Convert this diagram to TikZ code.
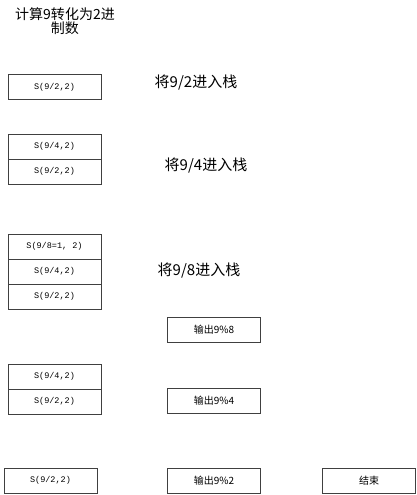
\documentclass[tikz,border=0pt]{standalone}
\usepackage{fontspec}
\setmainfont{Liberation Serif}
\setmonofont{Liberation Mono}
\newfontfamily\cjk{Noto Sans CJK SC}
\usetikzlibrary{positioning}

\begin{document}
\begin{tikzpicture}[x=1pt,y=-1pt,semithick,node distance=0pt]
\tikzstyle{cell}=[draw=black!75,thin,minimum width=93pt,minimum height=25pt,inner sep=0pt,outer sep=0pt,font=\ttfamily\fontsize{8.5}{9}\selectfont]
\tikzstyle{outbox}=[cell,font=\cjk\fontsize{10}{11}\selectfont]
\tikzstyle{note}=[inner sep=0pt,font=\cjk\fontsize{15}{16}\selectfont]
\useasboundingbox (0,0) rectangle (417,495);
% title
\node[inner sep=0pt,align=center,font=\cjk\fontsize{14}{14.5}\selectfont] (title) at (65,21) {计算9转化为2进\\制数};
% push 9/2
\node[cell] (A1) at (54.5,87) {S(9/2,2)};
\node[note] (pushA) at (196,83) {将9/2进入栈};
% push 9/4
\node[cell] (B1) at (54.5,146.5) {S(9/4,2)};
\node[cell][below=of B1] (B2) {S(9/2,2)};
\node[note] (pushB) at (206,166) {将9/4进入栈};
% push 9/8
\node[cell] (C1) at (54.5,246.5) {S(9/8=1, 2)};
\node[cell][below=of C1] (C2) {S(9/4,2)};
\node[cell][below=of C2] (C3) {S(9/2,2)};
\node[note] (pushC) at (199,271) {将9/8进入栈};
\node[outbox] (out8) at (214,329.5) {输出9\%8};
% pop
\node[cell] (D1) at (54.5,376.5) {S(9/4,2)};
\node[cell][below=of D1] (D2) {S(9/2,2)};
\node[outbox] (out4) at (214,400.5) {输出9\%4};
% last
\node[cell] (E1) at (50.5,480.5) {S(9/2,2)};
\node[outbox] (out2) at (214,480.5) {输出9\%2};
\node[outbox] (stop) at (369,480.5) {结束};
\end{tikzpicture}
\end{document}
